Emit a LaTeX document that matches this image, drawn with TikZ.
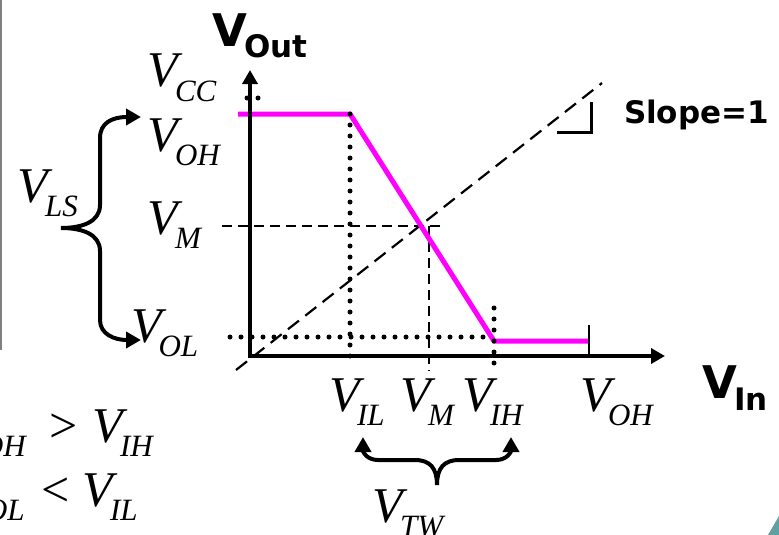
\documentclass[tikz,border=0pt]{standalone}
\usepackage{fontspec}
\setmainfont{Liberation Serif}
\newfontfamily\vsans{DejaVu Sans}
\usetikzlibrary{arrows.meta}
\definecolor{tealcorner}{RGB}{95,160,160}
\definecolor{curvemagenta}{RGB}{255,0,255}
\newcommand{\vsub}[1]{{\itshape\fontsize{50}{50}\selectfont V}\kern-3pt\raisebox{-14pt}{\itshape\fontsize{31}{31}\selectfont #1}}
\newcommand{\vbig}[2]{{\vsans\bfseries\fontsize{45}{45}\selectfont V}\kern-3pt\raisebox{-#2}{\vsans\bfseries\fontsize{31}{31}\selectfont #1}}
\begin{document}
\begin{tikzpicture}[x=1pt,y=-1pt,
  lbl/.style={inner sep=0pt, outer sep=0pt, anchor=base west},
  axisline/.style={line width=3.5pt, {Triangle[length=14pt,width=15pt]}-{Triangle[length=14pt,width=15pt]}},
  curveline/.style={line width=5pt, color=curvemagenta},
  dotline/.style={line width=5pt, line cap=round, dash pattern=on 0pt off 11pt},
  dashline/.style={line width=2.2pt, dash pattern=on 10pt off 6pt},
  diagline/.style={line width=2.2pt, dash pattern=on 14pt off 8pt},
  bracearrow/.style={line width=4pt, -{Triangle[length=15pt,width=16pt]}},
]
\useasboundingbox (0,0) rectangle (779,535);
\clip (0,0) rectangle (779,535);
% slide decorations
\draw[gray, line width=2pt] (1,0) -- (1,350);
\fill[tealcorner] (768,535) -- (779,516) -- (779,535) -- cycle;
% coordinates
\coordinate (yt) at (250,70);
\coordinate (o) at (250,356);
\coordinate (xt) at (665,356);
\coordinate (d1) at (236,370);
\coordinate (d2) at (602,83);
\coordinate (m1) at (238,114);
\coordinate (m2) at (350,114);
\coordinate (m3) at (494,341);
\coordinate (m4) at (589,341);
\coordinate (ilb) at (350,366);
\coordinate (ihT) at (494,308);
\coordinate (ihB) at (494,366);
\coordinate (olL) at (230,337);
\coordinate (olR) at (494,337);
\coordinate (ccL) at (247,98);
\coordinate (ccR) at (269,98);
\coordinate (vmL) at (222,226);
\coordinate (vmR) at (445,226);
\coordinate (vmT) at (429,226);
\coordinate (vmB) at (429,371);
\coordinate (tT) at (589,325);
\coordinate (tB) at (589,356);
\coordinate (s1) at (557,132);
\coordinate (s2) at (591,132);
\coordinate (s3) at (591,102);
\coordinate (lsTip) at (61,228);
\coordinate (lsTop) at (141,117);
\coordinate (lsBot) at (141,340);
\coordinate (twTip) at (437,485);
\coordinate (twL) at (363,437);
\coordinate (twR) at (511,437);
% dashed guides
\draw[diagline] (d1) -- (d2);
\draw[dashline] (vmL) -- (vmR);
\draw[dashline] (vmT) -- (vmB);
% transfer curve
\draw[curveline] (m1) -- (m2) -- (m3) -- (m4);
% dotted guides
\draw[dotline] (m2) -- (ilb);
\draw[dotline] (ihT) -- (ihB);
\draw[dotline] (olL) -- (olR);
\draw[dotline] (ccL) -- (ccR);
% tick and slope mark
\draw[line width=1.5pt] (tT) -- (tB);
\draw[line width=3pt] (s1) -- (s2) -- (s3);
% axes
\draw[axisline] (yt) -- (o) -- (xt);
% braces
\draw[bracearrow] (lsTip) .. controls (82,228) and (100,222) .. (100,205) -- (100,138) .. controls (100,123) and (112,117) .. (lsTop);
\draw[bracearrow] (lsTip) .. controls (82,228) and (100,234) .. (100,251) -- (100,320) .. controls (100,334) and (114,340) .. (lsBot);
\draw[bracearrow] (twTip) .. controls (437,468) and (430,460) .. (415,460) -- (378,460) .. controls (367,460) and (363,452) .. (twL);
\draw[bracearrow] (twTip) .. controls (437,468) and (444,460) .. (459,460) -- (496,460) .. controls (507,460) and (511,452) .. (twR);
% labels
\node[lbl] (vcc) at (147.5,87) {\vsub{CC}};
\node[lbl] (voh) at (147.5,151) {\vsub{OH}};
\node[lbl] (vm) at (147.5,234) {\vsub{M}};
\node[lbl] (vol) at (131,342) {\vsub{OL}};
\node[lbl] (vls) at (17.5,202) {\vsub{LS}};
\node[lbl] (vil) at (329.5,411) {\vsub{IL}};
\node[lbl] (vmb) at (400.5,411) {\vsub{M}};
\node[lbl] (vih) at (462.5,411) {\vsub{IH}};
\node[lbl] (vohb) at (580.5,411) {\vsub{OH}};
\node[lbl] (vtw) at (372.5,522) {\vsub{TW}};
\node[lbl] (l1a) at (-46.5,442) {\vsub{OH}};
\node[lbl] (l1b) at (49,442) {\fontsize{50}{50}\selectfont >};
\node[lbl] (l1c) at (92.5,442) {\vsub{IH}};
\node[lbl] (l2a) at (-42.5,506) {\vsub{OL}};
\node[lbl] (l2b) at (41,506) {\fontsize{50}{50}\selectfont <};
\node[lbl] (l2c) at (82.5,506) {\vsub{IL}};
\node[lbl] (vout) at (212.5,47) {\vbig{Out}{11pt}};
\node[lbl] (vin) at (702.5,398) {\vbig{In}{12pt}};
\node[lbl] (slope) at (624,123) {\vsans\bfseries\fontsize{31}{31}\selectfont Slope=1};
\end{tikzpicture}
\end{document}
